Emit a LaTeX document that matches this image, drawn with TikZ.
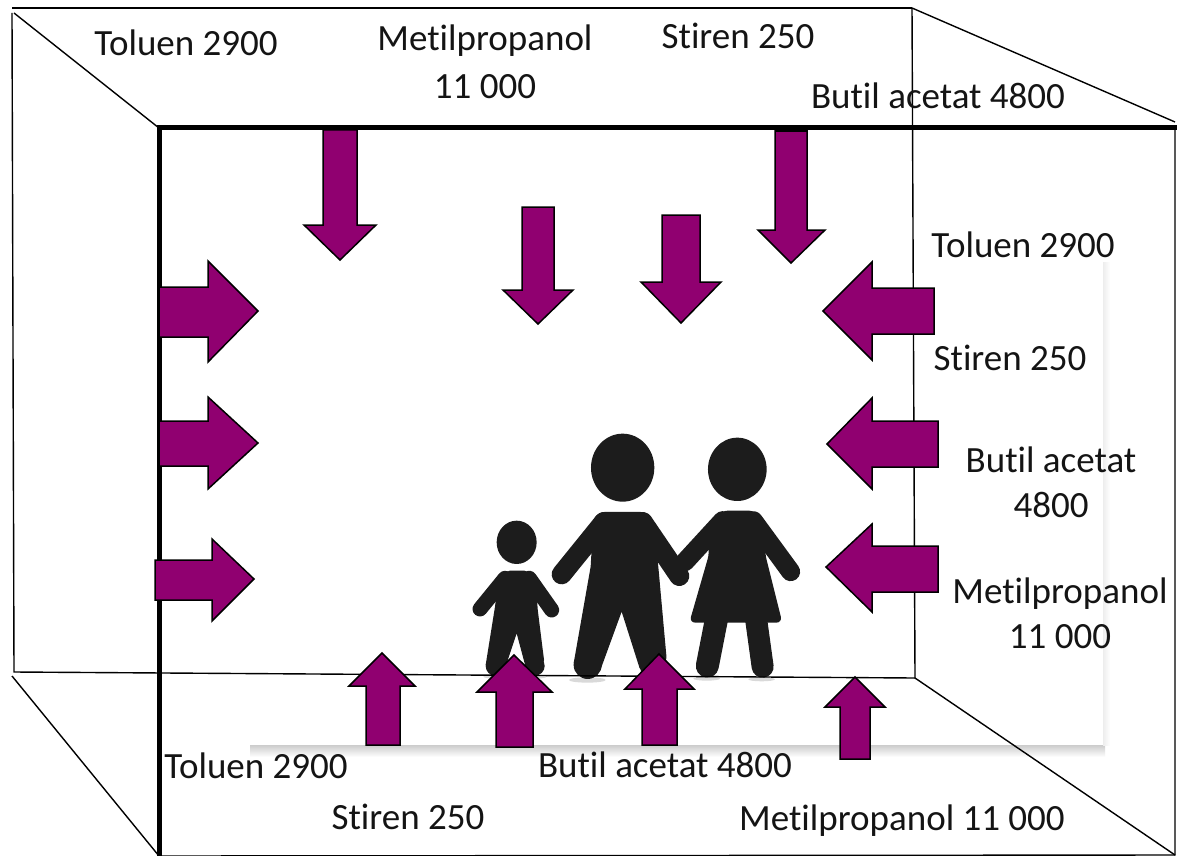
\documentclass[tikz,border=0pt]{standalone}
\usepackage{fontspec}
\setmainfont[Ligatures=NoCommon]{Carlito}
\tikzset{
  flow/.style={draw=black,line width=1.5pt,fill=flowpurple,line join=miter},
  lab/.style={anchor=base,inner sep=0pt,font=\fontsize{37}{42}\selectfont,text=black!92},
  thin box/.style={draw=black,line width=1.4pt},
  thick box/.style={draw=black,line width=5pt},
  fig/.style={fill=figblack},
  limb/.style={draw=figblack,line cap=round}
}
\definecolor{flowpurple}{RGB}{144,0,112}
\definecolor{figblack}{RGB}{28,28,28}
\begin{document}
\begin{tikzpicture}[x=1pt,y=-1pt]
\useasboundingbox (0,0) rectangle (1177,856);
\fill[white] (0,0) rectangle (1177,856);
% corners
\coordinate (ftl) at (159,128); \coordinate (ftr) at (1177,128);
\coordinate (fbl) at (159,856); \coordinate (fbr) at (1175,855);
\coordinate (btl) at (12,13); \coordinate (btr) at (912,8);
\coordinate (bbl) at (14,672); \coordinate (bbr) at (915,678);
% picture panel shadow
\shade[top color=black!20,bottom color=white] (250,745) rectangle (1105,757);
\shade[left color=black!7,right color=white] (1103,262) rectangle (1110,745);
\fill[white] (248,230) rectangle (1103,745);
% people
\begin{scope}[shift={(450,420)},x=0.3333pt,y=-0.3333pt]
 \fill[black!15] (412,780) ellipse (55 and 8);
 \fill[black!15] (615,780) ellipse (50 and 8);
 \fill[black!15] (935,778) ellipse (40 and 6);
 \fill[black!15] (770,776) ellipse (40 and 6);
 \fill[black!15] (135,770) ellipse (35 and 6);
 \fill[black!15] (255,770) ellipse (35 and 6);
 % man
 \fill[fig] (518,143) ellipse (95 and 102);
 \fill[fig,rounded corners=6pt] (445,276) -- (590,276) -- (612,320) -- (625,440) -- (651,728) [sharp corners] -- (569,745) -- (515,575) -- (453,745) -- (371,730) -- (422,440) -- (430,300) [rounded corners=6pt] -- cycle;
 \fill[fig] (413,735) circle (42);
 \fill[fig] (610,735) circle (41);
 \draw[limb,line width=20pt] (462,306) -- (335,463);
 \draw[limb,line width=20pt] (578,306) -- (688,468);
 % woman
 \fill[fig] (862,148) ellipse (88 and 95);
 \fill[fig,rounded corners=6pt] (815,272) -- (915,272) -- (950,330) -- (945,400) -- (997,608) -- (718,608) -- (778,400) -- (770,340) -- cycle;
 \draw[limb,line width=19pt] (818,302) -- (705,425);
 \draw[limb,line width=19pt] (910,302) -- (1022,455);
 \draw[limb,line width=23pt] (800,595) -- (772,738);
 \draw[limb,line width=22pt] (918,595) -- (938,740);
 % child
 \fill[fig] (200,367) ellipse (60 and 65);
 \fill[fig,rounded corners=5pt] (165,452) -- (238,452) -- (262,520) -- (262,560) -- (284,735) [sharp corners] -- (228,745) -- (200,640) -- (165,745) -- (107,735) -- (135,560) [rounded corners=5pt] -- (140,520) -- cycle;
 \fill[fig] (137,738) circle (30);
 \fill[fig] (255,738) circle (29);
 \draw[limb,line width=15pt] (165,475) -- (90,567);
 \draw[limb,line width=15pt] (238,475) -- (305,570);
\end{scope}
% box lines
\draw[thin box] (btr) -- (1175,122);
\draw[thin box] (fbl) -- (fbr) -- (1175,127);
\draw[thin box] (12,8) -- (btr);
\draw[thin box] (12,13) -- (bbl) -- (bbr);
\draw[thin box] (btr) -- (bbr) -- (fbr);
\draw[thin box] (14,13) -- (ftl);
\draw[thin box] (12,676) -- (fbl);
\draw[thick box] (ftr) -- (ftl) -- (fbl);
% down arrows
\draw[flow] (323,130) -- (357,130) -- (357,225) -- (376,225) -- (340,260) -- (304,225) -- (323,225) -- cycle;
\draw[flow] (522,207) -- (554,207) -- (554,290) -- (573,290) -- (538,324) -- (503,290) -- (522,290) -- cycle;
\draw[flow] (662,215) -- (700,215) -- (700,282) -- (721,282) -- (681,323) -- (641,282) -- (662,282) -- cycle;
\draw[flow] (775,131) -- (807,131) -- (807,230) -- (825,230) -- (791,263) -- (758,230) -- (775,230) -- cycle;
% right arrows
\draw[flow] (159,287) -- (208,287) -- (208,261) -- (258,311) -- (208,362) -- (208,337) -- (159,337) -- cycle;
\draw[flow] (159,421) -- (208,421) -- (208,397) -- (258,443) -- (208,489) -- (208,466) -- (159,466) -- cycle;
\draw[flow] (155,560) -- (212,560) -- (212,539) -- (254,579) -- (212,621) -- (212,600) -- (155,600) -- cycle;
% left arrows
\draw[flow] (934,288) -- (872,288) -- (872,262) -- (823,311) -- (872,360) -- (872,334) -- (934,334) -- cycle;
\draw[flow] (938,421) -- (872,421) -- (872,398) -- (827,444) -- (872,489) -- (872,467) -- (938,467) -- cycle;
\draw[flow] (938,546) -- (872,546) -- (872,524) -- (826,567) -- (872,612) -- (872,592) -- (938,592) -- cycle;
% up arrows
\draw[flow] (366,745) -- (400,745) -- (400,686) -- (415,686) -- (382,653) -- (349,686) -- (366,686) -- cycle;
\draw[flow] (496,747) -- (533,747) -- (533,692) -- (552,692) -- (514,655) -- (477,692) -- (496,692) -- cycle;
\draw[flow] (642,745) -- (677,745) -- (677,689) -- (694,689) -- (659,654) -- (625,689) -- (642,689) -- cycle;
\draw[flow] (840,759) -- (870,759) -- (870,707) -- (885,707) -- (855,677) -- (825,707) -- (840,707) -- cycle;
% labels
\node[lab] (t1) at (186,56) {Toluen 2900};
\node[lab] (m1a) at (485,51) {Metilpropanol};
\node[lab] (m1b) at (485,99) {11 000};
\node[lab] (s1) at (738,49) {Stiren 250};
\node[lab] (b1) at (938,109) {Butil acetat 4800};
\node[lab] (t2) at (1023,257) {Toluen 2900};
\node[lab] (s2) at (1010,370) {Stiren 250};
\node[lab] (b2a) at (1051,472) {Butil acetat};
\node[lab] (b2b) at (1051,517) {4800};
\node[lab] (m2a) at (1060,603) {Metilpropanol};
\node[lab] (m2b) at (1060,648) {11 000};
\node[lab] (t3) at (256,778) {Toluen 2900};
\node[lab] (b3) at (665,777) {Butil acetat 4800};
\node[lab] (s3) at (408,829) {Stiren 250};
\node[lab] (m3) at (902,830) {Metilpropanol 11 000};
\end{tikzpicture}
\end{document}
